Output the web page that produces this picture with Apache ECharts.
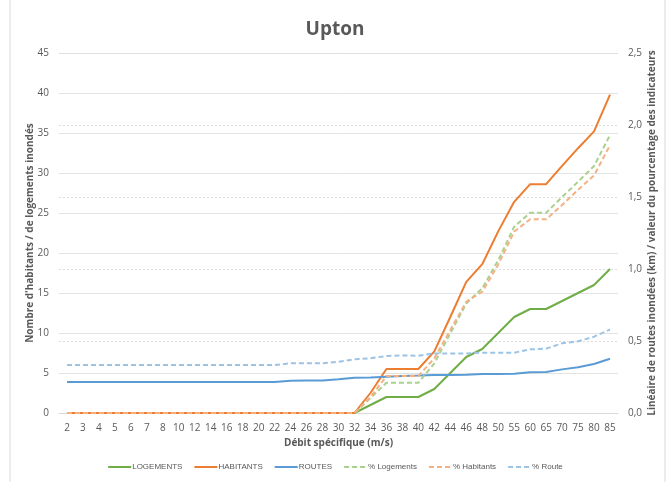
<!DOCTYPE html>
<html>
<head>
<meta charset="utf-8">
<script src="https://cdn.jsdelivr.net/npm/echarts@6/dist/echarts.min.js"></script>
<style>
    html, body { margin: 0; padding: 0; background: #fff; }
    #main { width: 670px; height: 482px; }
</style>
</head>
<body>
<div id="main"></div>
<script>
// 数据
var debits = ['2', '3', '4', '5', '6', '7', '8', '10', '12', '14', '16', '18', '20', '22', '24', '26', '28', '30',
    '32', '34', '36', '38', '40', '42', '44', '46', '48', '50', '55', '60', '65', '70', '75', '80', '85'];
var logements = [0, 0, 0, 0, 0, 0, 0, 0, 0, 0, 0, 0, 0, 0, 0, 0, 0, 0,
    0, 1, 2, 2, 2, 3, 5, 7, 8, 10, 12, 13, 13, 14, 15, 16, 18];
var habitants = [0, 0, 0, 0, 0, 0, 0, 0, 0, 0, 0, 0, 0, 0, 0, 0, 0, 0,
    0, 2.5, 5.5, 5.5, 5.5, 7.7, 12, 16.4, 18.6, 22.7, 26.4, 28.6, 28.6, 30.9, 33.1, 35.2, 39.8];
var routes = [0.215, 0.215, 0.215, 0.215, 0.215, 0.215, 0.215, 0.215, 0.215, 0.215, 0.215, 0.215, 0.215, 0.215,
    0.224, 0.225, 0.226, 0.235, 0.245, 0.246, 0.252, 0.257, 0.26, 0.264, 0.264, 0.266, 0.27, 0.27, 0.272,
    0.283, 0.285, 0.303, 0.317, 0.34, 0.377];
var pctLogements = [0, 0, 0, 0, 0, 0, 0, 0, 0, 0, 0, 0, 0, 0, 0, 0, 0, 0,
    0, 0.104, 0.21, 0.21, 0.21, 0.345, 0.553, 0.76, 0.866, 1.06, 1.294, 1.39, 1.39, 1.5, 1.606, 1.715, 1.93];
var pctHabitants = [0, 0, 0, 0, 0, 0, 0, 0, 0, 0, 0, 0, 0, 0, 0, 0, 0, 0,
    0, 0.11, 0.257, 0.257, 0.257, 0.38, 0.576, 0.773, 0.842, 1.03, 1.26, 1.345, 1.345, 1.444, 1.55, 1.65, 1.86];
var pctRoute = [0.333, 0.333, 0.333, 0.333, 0.333, 0.333, 0.333, 0.333, 0.333, 0.333, 0.333, 0.333, 0.333, 0.333,
    0.345, 0.345, 0.345, 0.356, 0.373, 0.38, 0.396, 0.4, 0.398, 0.414, 0.414, 0.414, 0.419, 0.419, 0.419,
    0.442, 0.447, 0.484, 0.498, 0.53, 0.58];

(function() {
    var myChart = echarts.init(document.querySelector("#main"));
    var font = 'Open Sans';
    var txt = '#595959';

    function serie(name, data, color, axis, dashed) {
        return {
            name: name,
            type: 'line',
            yAxisIndex: axis,
            data: data,
            symbol: 'none',
            lineStyle: { width: 2, color: color, type: dashed ? [5, 3] : 'solid' },
            itemStyle: { color: color }
        };
    }

    var option = {
        animation: false,
        title: {
            text: 'Upton',
            left: 'center',
            top: 15,
            textStyle: { fontFamily: font, fontSize: 19, fontWeight: 'bold', color: txt }
        },
        graphic: [{
            type: 'rect',
            shape: { x: 10, y: -2, width: 655, height: 490 },
            style: { fill: 'none', stroke: '#d9d9d9', lineWidth: 1 },
            silent: true
        }],
        legend: {
            bottom: 6,
            left: 'center',
            itemWidth: 23,
            itemHeight: 10,
            itemGap: 11,
            itemStyle: { opacity: 0 },
            textStyle: { fontFamily: 'Liberation Sans', fontSize: 8, color: txt, padding: [0, 0, 0, -4] }
        },
        grid: { left: 59, right: 52, top: 53, bottom: 69 },
        xAxis: {
            type: 'category',
            data: debits,
            name: 'Débit spécifique (m/s)',
            nameLocation: 'middle',
            nameGap: 25,
            nameTextStyle: { fontFamily: font, fontSize: 10, fontWeight: 'bold', color: txt },
            axisLine: { lineStyle: { color: '#d9d9d9' } },
            axisTick: { show: false },
            axisLabel: { interval: 0, fontFamily: font, fontSize: 10, color: txt, margin: 10 }
        },
        yAxis: [{
                type: 'value',
                min: 0,
                max: 45,
                interval: 5,
                name: "Nombre d'habitants / de logements inondés",
                nameLocation: 'middle',
                nameGap: 24,
                nameMoveOverlap: false,
                nameTextStyle: { fontFamily: font, fontSize: 10, fontWeight: 'bold', color: txt },
                axisLine: { show: false },
                axisTick: { show: false },
                axisLabel: { fontFamily: font, fontSize: 10, color: txt, margin: 10 },
                splitLine: { lineStyle: { color: '#e3e3e3', width: 1 } }
            },
            {
                type: 'value',
                min: 0,
                max: 2.5,
                interval: 0.5,
                name: 'Linéaire de routes inondées (km) / valeur du pourcentage des indicateurs',
                nameLocation: 'middle',
                nameGap: 29,
                nameRotate: 90,
                nameMoveOverlap: false,
                nameTextStyle: { fontFamily: font, fontSize: 10, fontWeight: 'bold', color: txt },
                axisLine: { show: false },
                axisTick: { show: false },
                axisLabel: {
                    fontFamily: font, fontSize: 10, color: txt, margin: 10,
                    formatter: function(v) { return v.toFixed(1).replace('.', ','); }
                },
                splitLine: { lineStyle: { color: '#dcdcdc', width: 1, type: [2, 2] } }
            }
        ],
        series: [
            serie('LOGEMENTS', logements, '#70ad47', 0, false),
            serie('HABITANTS', habitants, '#ed7d31', 0, false),
            serie('ROUTES', routes, '#5b9bd5', 1, false),
            serie('% Logements', pctLogements, '#a9d18e', 1, true),
            serie('% Habitants', pctHabitants, '#f4b183', 1, true),
            serie('% Route', pctRoute, '#9dc3e6', 1, true)
        ]
    };
    myChart.setOption(option);
    window.addEventListener("resize", function() {
        myChart.resize();
    });
})();
</script>
</body>
</html>
